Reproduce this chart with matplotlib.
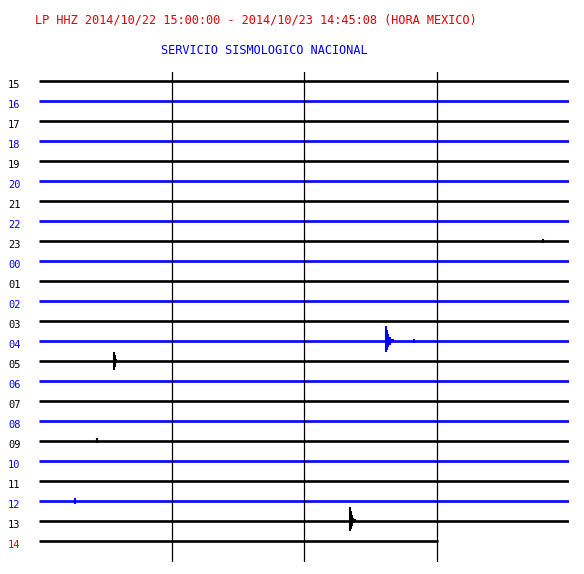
import matplotlib
matplotlib.use('Agg')
import matplotlib.pyplot as plt

# hour labels, one trace per hour (15:00 on 22 Oct to 14:45 on 23 Oct)
hours = ['15', '16', '17', '18', '19', '20', '21', '22', '23', '00', '01', '02',
         '03', '04', '05', '06', '07', '08', '09', '10', '11', '12', '13', '14']
trace_colors = ['k', 'b', 'k', 'b', 'k', 'b', 'k', 'b', 'k', 'b', 'k', 'b',
                'k', 'b', 'k', 'b', 'k', 'b', 'k', 'b', 'k', 'b', 'k', 'k']
label_colors = ['k', 'b', 'k', 'b', 'k', 'b', 'k', 'b', 'k', 'b', 'k', 'b',
                'k', 'b', 'k', 'b', 'k', 'b', 'k', 'b', 'k', 'b', 'k', 'r']
last_row_end = 45.13  # minutes, 14:45:08

# events: hour label, start minute,
# minute offsets, amplitude up / down (in units of row spacing)
events = [
    ('04', 39.3, [0.0, 0.12, 0.25, 0.4, 0.55, 0.75, 3.2],
     [0.75, 0.55, 0.35, 0.2, 0.12, 0.08, 0.12],
     [0.55, 0.45, 0.3, 0.18, 0.1, 0.06, 0.1]),
    ('05', 8.5, [0.0, 0.12, 0.25],
     [0.45, 0.3, 0.12], [0.45, 0.3, 0.12]),
    ('13', 35.2, [0.0, 0.12, 0.25, 0.4, 0.6],
     [0.7, 0.5, 0.3, 0.15, 0.08], [0.5, 0.4, 0.25, 0.12, 0.06]),
    ('09', 6.6, [0.0], [0.15], [0.12]),
    ('12', 4.1, [0.0], [0.15], [0.15]),
    ('23', 57.0, [0.0], [0.12], [0.12]),
]

COLOR_MAP = {'k': 'black', 'b': '#0000ff', 'r': '#e00000'}


def main():
    fig = plt.figure(figsize=(5.84, 5.74), dpi=100)
    W, H = 584.0, 574.0
    ax = fig.add_axes([39 / W, 1 - 562 / H, 530 / W, 490 / H])
    ax.set_xlim(0, 60)
    ax.set_ylim(24.05, -0.45)
    ax.axis('off')

    # traces and hour labels
    for i, hr in enumerate(hours):
        end = last_row_end if i == len(hours) - 1 else 60
        col = COLOR_MAP[trace_colors[i]]
        ax.plot([0, end], [i, i], color=col, lw=1.9, solid_capstyle='butt')
        fig.text(8 / W, 1 - (81 + 20 * i + 4) / H, hr,
                 color=COLOR_MAP[label_colors[i]],
                 fontsize=7.5, family='DejaVu Sans Mono', va='center', ha='left')

    # events
    for hr, start, offs, ups, downs in events:
        i = hours.index(hr)
        col = COLOR_MAP[trace_colors[i]]
        for off, up, dn in zip(offs, ups, downs):
            ax.vlines(start + off, i - up, i + dn, color=col, lw=1.5)

    # quarter-hour lines
    for m in [15, 30, 45]:
        ax.axvline(m, color='black', lw=0.9)

    fig.text(256 / W, 1 - 20 / H,
             'LP HHZ 2014/10/22 15:00:00 - 2014/10/23 14:45:08 (HORA MEXICO)',
             color='#e00000', fontsize=8.6, family='DejaVu Sans Mono',
             ha='center', va='center')
    fig.text(264 / W, 1 - 50 / H, 'SERVICIO SISMOLOGICO NACIONAL',
             color='#0000ff', fontsize=8.6, family='DejaVu Sans Mono',
             ha='center', va='center')

    fig.savefig('out.png', dpi=100, facecolor='white')
    plt.close()


main()
